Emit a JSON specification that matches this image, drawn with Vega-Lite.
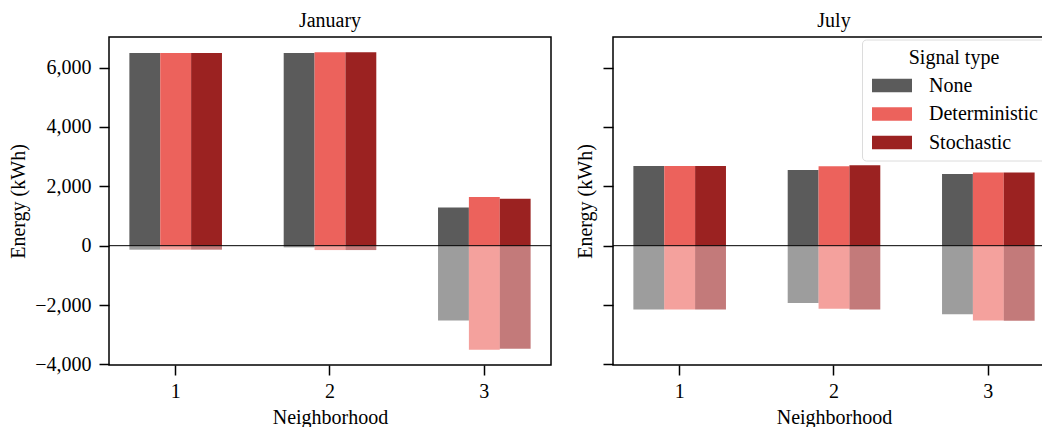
{
  "$schema": "https://vega.github.io/schema/vega-lite/v6.json",
  "padding": {"left": 7, "top": 10, "right": 0, "bottom": 0},
  "background": "white",
  "config": {
    "font": "Liberation Serif",
    "view": {"stroke": "black", "strokeWidth": 1.5},
    "axis": {
      "labelFont": "Liberation Serif", "titleFont": "Liberation Serif",
      "labelFontSize": 20, "titleFontSize": 20, "titleFontWeight": "normal",
      "labelColor": "black", "titleColor": "black",
      "tickColor": "black", "tickSize": 10, "tickWidth": 1.5,
      "domain": false, "grid": false, "labelPadding": 8
    },
    "title": {"font": "Liberation Serif", "fontSize": 20, "fontWeight": "normal", "color": "black", "offset": 6}
  },
  "datasets": {
    "energy": [
      {"month": "January", "neighborhood": "1", "signal": "None", "part": "positive", "value": 6494},
      {"month": "January", "neighborhood": "1", "signal": "Deterministic", "part": "positive", "value": 6494},
      {"month": "January", "neighborhood": "1", "signal": "Stochastic", "part": "positive", "value": 6494},
      {"month": "January", "neighborhood": "2", "signal": "None", "part": "positive", "value": 6494},
      {"month": "January", "neighborhood": "2", "signal": "Deterministic", "part": "positive", "value": 6517},
      {"month": "January", "neighborhood": "2", "signal": "Stochastic", "part": "positive", "value": 6517},
      {"month": "January", "neighborhood": "3", "signal": "None", "part": "positive", "value": 1282},
      {"month": "January", "neighborhood": "3", "signal": "Deterministic", "part": "positive", "value": 1640},
      {"month": "January", "neighborhood": "3", "signal": "Stochastic", "part": "positive", "value": 1585},
      {"month": "January", "neighborhood": "1", "signal": "None", "part": "negative", "value": -135},
      {"month": "January", "neighborhood": "1", "signal": "Deterministic", "part": "negative", "value": -135},
      {"month": "January", "neighborhood": "1", "signal": "Stochastic", "part": "negative", "value": -135},
      {"month": "January", "neighborhood": "2", "signal": "None", "part": "negative", "value": -57},
      {"month": "January", "neighborhood": "2", "signal": "Deterministic", "part": "negative", "value": -148},
      {"month": "January", "neighborhood": "2", "signal": "Stochastic", "part": "negative", "value": -148},
      {"month": "January", "neighborhood": "3", "signal": "None", "part": "negative", "value": -2520},
      {"month": "January", "neighborhood": "3", "signal": "Deterministic", "part": "negative", "value": -3508},
      {"month": "January", "neighborhood": "3", "signal": "Stochastic", "part": "negative", "value": -3474},
      {"month": "July", "neighborhood": "1", "signal": "None", "part": "positive", "value": 2685},
      {"month": "July", "neighborhood": "1", "signal": "Deterministic", "part": "positive", "value": 2685},
      {"month": "July", "neighborhood": "1", "signal": "Stochastic", "part": "positive", "value": 2685},
      {"month": "July", "neighborhood": "2", "signal": "None", "part": "positive", "value": 2550},
      {"month": "July", "neighborhood": "2", "signal": "Deterministic", "part": "positive", "value": 2675},
      {"month": "July", "neighborhood": "2", "signal": "Stochastic", "part": "positive", "value": 2708},
      {"month": "July", "neighborhood": "3", "signal": "None", "part": "positive", "value": 2415},
      {"month": "July", "neighborhood": "3", "signal": "Deterministic", "part": "positive", "value": 2462},
      {"month": "July", "neighborhood": "3", "signal": "Stochastic", "part": "positive", "value": 2462},
      {"month": "July", "neighborhood": "1", "signal": "None", "part": "negative", "value": -2148},
      {"month": "July", "neighborhood": "1", "signal": "Deterministic", "part": "negative", "value": -2148},
      {"month": "July", "neighborhood": "1", "signal": "Stochastic", "part": "negative", "value": -2148},
      {"month": "July", "neighborhood": "2", "signal": "None", "part": "negative", "value": -1935},
      {"month": "July", "neighborhood": "2", "signal": "Deterministic", "part": "negative", "value": -2125},
      {"month": "July", "neighborhood": "2", "signal": "Stochastic", "part": "negative", "value": -2148},
      {"month": "July", "neighborhood": "3", "signal": "None", "part": "negative", "value": -2307},
      {"month": "July", "neighborhood": "3", "signal": "Deterministic", "part": "negative", "value": -2519},
      {"month": "July", "neighborhood": "3", "signal": "Stochastic", "part": "negative", "value": -2530}
    ]
  },
  "spacing": 21,
  "resolve": {"scale": {"color": "independent", "opacity": "independent"}, "legend": {"color": "independent"}},
  "hconcat": [
    {
      "width": 442,
      "height": 328,
      "title": {"text": "January"},
      "layer": [
        {
          "data": {"name": "energy"},
          "transform": [{"filter": "datum.month === 'January'"}],
          "mark": {"type": "bar"},
          "encoding": {
            "x": {"field": "neighborhood", "type": "ordinal", "scale": {"paddingInner": 0.4, "paddingOuter": 0.132}, "axis": {"labelAngle": 0, "title": "Neighborhood", "titlePadding": 6, "labelPadding": 6}},
            "xOffset": {"field": "signal", "type": "nominal", "sort": ["None", "Deterministic", "Stochastic"]},
            "y": {"field": "value", "type": "quantitative", "scale": {"domain": [-4020, 7030], "nice": false}, "axis": {"values": [-4000, -2000, 0, 2000, 4000, 6000], "format": ",.0f", "title": "Energy (kWh)", "titlePadding": 6}},
            "color": {"field": "signal", "type": "nominal", "scale": {"domain": ["None", "Deterministic", "Stochastic"], "range": ["#5b5b5b", "#ec625c", "#9b2221"]}, "legend": null},
            "opacity": {"field": "part", "type": "nominal", "scale": {"domain": ["positive", "negative"], "range": [1, 0.6]}, "legend": null}
          }
        },
        {
          "data": {"values": [{}]},
          "mark": {"type": "rule", "color": "black", "strokeWidth": 1},
          "encoding": {"y": {"datum": 0}}
        }
      ]
    },
    {
      "width": 442,
      "height": 328,
      "title": {"text": "July"},
      "layer": [
        {
          "data": {"name": "energy"},
          "transform": [{"filter": "datum.month === 'July'"}],
          "mark": {"type": "bar"},
          "encoding": {
            "x": {"field": "neighborhood", "type": "ordinal", "scale": {"paddingInner": 0.4, "paddingOuter": 0.132}, "axis": {"labelAngle": 0, "title": "Neighborhood", "titlePadding": 6, "labelPadding": 6}},
            "xOffset": {"field": "signal", "type": "nominal", "sort": ["None", "Deterministic", "Stochastic"]},
            "y": {"field": "value", "type": "quantitative", "scale": {"domain": [-4020, 7030], "nice": false}, "axis": {"values": [-4000, -2000, 0, 2000, 4000, 6000], "labels": false, "title": "Energy (kWh)", "titlePadding": 7}},
            "color": {"field": "signal", "type": "nominal", "scale": {"domain": ["None", "Deterministic", "Stochastic"], "range": ["#5b5b5b", "#ec625c", "#9b2221"]},
              "legend": {"orient": "none", "legendX": 249, "legendY": 2.5, "title": "Signal type", "titleFontSize": 20, "titleFont": "Liberation Serif", "titleFontWeight": "normal", "titleAnchor": "middle", "titleAlign": "center", "titleColor": "black", "titlePadding": 8,
                "labelFontSize": 20, "labelFont": "Liberation Serif", "labelColor": "black", "labelOffset": 39,
                "symbolType": "M-0.8,-0.667H3.2V0.667H-0.8Z", "symbolSize": 400, "symbolStrokeWidth": 0, "symbolOpacity": 1,
                "rowPadding": 8.5, "padding": 8, "fillColor": "white", "strokeColor": "#dcdcdc", "cornerRadius": 4}},
            "opacity": {"field": "part", "type": "nominal", "scale": {"domain": ["positive", "negative"], "range": [1, 0.6]}, "legend": null}
          }
        },
        {
          "data": {"values": [{}]},
          "mark": {"type": "rule", "color": "black", "strokeWidth": 1},
          "encoding": {"y": {"datum": 0}}
        }
      ]
    }
  ]
}
